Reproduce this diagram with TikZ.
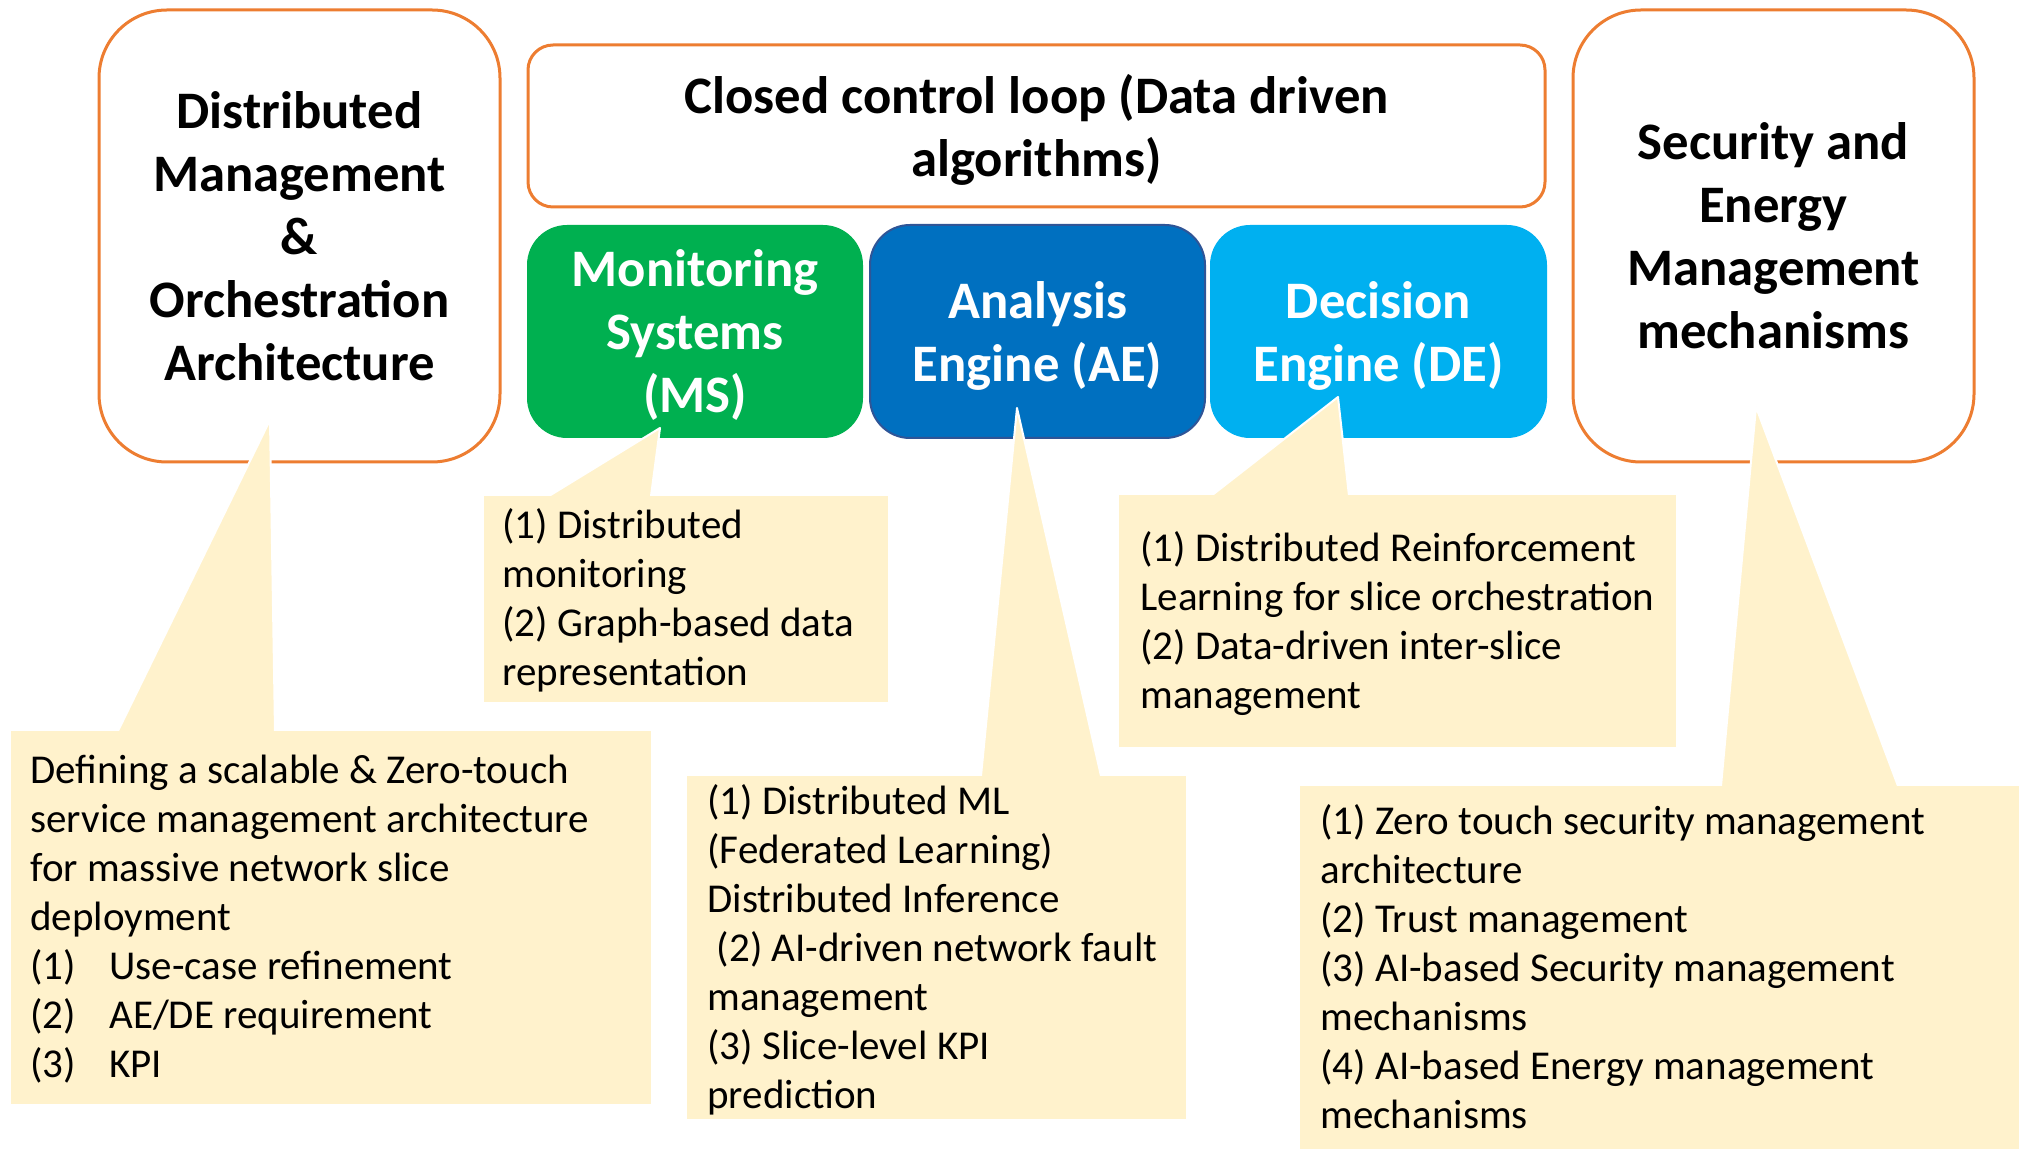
\documentclass[tikz,border=0pt]{standalone}
\usepackage{fontspec}
\setmainfont{Carlito}
\definecolor{frameorange}{HTML}{ED7D31}
\definecolor{msgreen}{HTML}{00B050}
\definecolor{aeblue}{HTML}{0070C0}
\definecolor{aeedge}{HTML}{2F5597}
\definecolor{decyan}{HTML}{00B0F0}
\definecolor{notecream}{HTML}{FFF2CC}
\tikzset{
  headfont/.style={font=\fontsize{26.35}{31.5}\selectfont\bfseries},
  topic/.style={draw=frameorange, line width=1.5pt, fill=white, rounded corners=34pt,
    align=center, headfont, inner sep=0pt},
  loopbox/.style={draw=frameorange, line width=1.5pt, fill=white, rounded corners=12.5pt, inner sep=0pt},
  engine/.style={rounded corners=20pt, inner sep=0pt, minimum height=106.5pt},
  boxtext/.style={align=center, headfont, inner sep=0pt},
  note/.style={fill=notecream, inner sep=0pt, outer sep=0pt, anchor=north west},
  notetext/.style={align=left, inner sep=0pt, anchor=north west,
    font=\fontsize{20.5}{24.5}\selectfont},
  tail/.style={fill=notecream},
  tailedge/.style={draw=white, line width=1pt, line join=round},
}
\newcommand{\itemno}[1]{\makebox[39.5pt][l]{#1}}
\begin{document}
\begin{tikzpicture}[x=0.5pt,y=-0.5pt]
\useasboundingbox (0,0) rectangle (2019,1149);

% framed topic boxes
\node[topic, minimum width=200.5pt, minimum height=226pt] (dmo) at (299.5,236)
  {Distributed\\Management\\\&\\Orchestration\\Architecture};
\node[topic, minimum width=200.5pt, minimum height=226pt] (sem) at (1773.5,236)
  {Security and\\Energy\\Management\\mechanisms};
\node[loopbox, minimum width=508.5pt, minimum height=81pt] (ccl) at (1036.5,126) {};
\node[boxtext] (ccltext) at ([yshift=-2pt]ccl.center)
  {Closed control loop (Data driven\\algorithms)};

% engines
\node[engine, fill=msgreen, minimum width=168pt] (ms) at (695,331.5) {};
\node[engine, fill=aeblue, draw=aeedge, line width=1pt, minimum width=167.5pt] (ae) at (1037.5,331.5) {};
\node[engine, fill=decyan, minimum width=168.5pt] (de) at (1378.5,331.5) {};
\node[boxtext, text=white] (mstext) at ([yshift=-2pt]ms.center) {Monitoring\\Systems\\(MS)};
\node[boxtext, text=white] (aetext) at ([yshift=-2pt]ae.center) {Analysis\\Engine (AE)};
\node[boxtext, text=white] (detext) at ([yshift=-2pt]de.center) {Decision\\Engine (DE)};

% callout tails
\coordinate (t1) at (270,420);  \coordinate (t1a) at (118,731);  \coordinate (t1b) at (275,731);
\coordinate (t2) at (660,428);  \coordinate (t2a) at (549,496);  \coordinate (t2b) at (651,496);
\coordinate (t3) at (1017,408); \coordinate (t3a) at (981,776);  \coordinate (t3b) at (1101,776);
\coordinate (t4) at (1338,397); \coordinate (t4a) at (1211,496); \coordinate (t4b) at (1349,496);
\coordinate (t5) at (1756,407); \coordinate (t5a) at (1721,786); \coordinate (t5b) at (1898,786);
\foreach \t in {t1,t2,t3,t4,t5}{
  \fill[tail] (\t) -- (\t a) -- (\t b) -- cycle;
  \draw[tailedge] (\t a) -- (\t) -- (\t b);
}

% callout bodies
\node[note, minimum width=320pt, minimum height=186.5pt] (n1) at (11,731) {};
\node[note, minimum width=202pt, minimum height=103pt] (n2) at (484,496) {};
\node[note, minimum width=249.5pt, minimum height=171.5pt] (n3) at (687,776) {};
\node[note, minimum width=278.5pt, minimum height=126pt] (n4) at (1119,495) {};
\node[note, minimum width=359.5pt, minimum height=181.5pt] (n5) at (1300,786) {};

% callout texts
\node[notetext] (n1t) at (30,748.7)
  {\strut Defining a scalable \& Zero-touch\\service management architecture\\for massive network slice\\deployment\\
   \itemno{(1)}Use-case refinement\\\itemno{(2)}AE/DE requirement\\\itemno{(3)}KPI};
\node[notetext] (n2t) at (502,503.7)
  {\strut (1) Distributed\\monitoring\\(2) Graph-based data\\representation};
\node[notetext] (n3t) at (707,779.7)
  {\strut (1) Distributed ML\\(Federated Learning)\\Distributed Inference\\\hspace*{0.23em}(2) AI-driven network fault\\management\\(3) Slice-level KPI\\prediction};
\node[notetext] (n4t) at (1140,526.7)
  {\strut (1) Distributed Reinforcement\\Learning for slice orchestration\\(2) Data-driven inter-slice\\management};
\node[notetext] (n5t) at (1320,799.7)
  {\strut (1) Zero touch security management\\architecture\\(2) Trust management\\(3) AI-based Security management\\mechanisms\\(4) AI-based Energy management\\mechanisms};
\end{tikzpicture}
\end{document}
